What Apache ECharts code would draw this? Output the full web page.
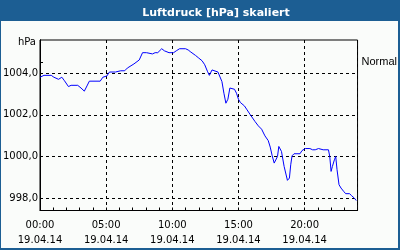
<!DOCTYPE html>
<html><head><meta charset="utf-8">
<script src="https://cdn.jsdelivr.net/npm/echarts@6/dist/echarts.min.js"></script>
<style>html,body{margin:0;padding:0;}#c{width:400px;height:250px;}</style>
</head><body><div id="c"></div>
<script>
const titleText = 'Luftdruck [hPa] skaliert';
const unitName = 'hPa';
const dateLabel = '19.04.14';
const xTickHours = [0, 5, 10, 15, 20];
const xTickLabels = ['00:00', '05:00', '10:00', '15:00', '20:00'];
const yTickValues = [998, 1000, 1002, 1004];
const normalLevel = [1004.53];
const normalLabel = 'Normal';
const hours = [0,0.30,0.85,1.05,1.40,1.65,1.85,2.15,2.35,2.85,3.10,3.35,3.55,3.73,4.55,4.75,5.05,5.25,5.70,5.85,6.10,6.40,6.60,6.75,7.10,7.25,7.50,7.75,8.05,8.20,8.50,8.70,8.90,9.20,9.40,9.55,9.75,9.90,10.10,10.30,10.55,11.00,11.20,11.40,11.75,12.00,12.25,12.45,12.65,12.80,13.00,13.45,13.60,13.75,13.90,14.05,14.20,14.35,14.70,14.85,15.00,15.15,15.45,15.65,15.90,16.25,16.50,16.75,17.00,17.25,17.40,17.55,17.70,17.85,17.95,18.05,18.20,18.25,18.45,18.70,18.85,18.95,19.05,19.20,19.65,19.80,20.05,20.40,20.60,20.80,21.05,21.40,21.80,21.90,22.00,22.10,22.25,22.35,22.45,22.60,22.75,22.95,23.10,23.40,23.55,23.75,23.90];
const pressure = [1003.81,1003.90,1003.90,1003.81,1003.71,1003.81,1003.64,1003.36,1003.42,1003.42,1003.29,1003.14,1003.39,1003.62,1003.62,1003.81,1003.87,1004.06,1004.06,1004.03,1004.12,1004.12,1004.25,1004.19,1004.45,1004.54,1004.64,1004.99,1004.99,1004.93,1004.93,1004.99,1004.99,1005.18,1005.08,1005.12,1004.99,1005.08,1004.99,1005.08,1005.18,1005.18,1005.12,1005.02,1004.86,1004.73,1004.60,1004.41,1004.10,1003.90,1004.16,1004.06,1003.97,1003.60,1003.04,1002.56,1002.75,1003.29,1003.23,1003.04,1002.75,1002.59,1002.43,1002.24,1002.00,1001.68,1001.47,1001.31,1000.99,1000.76,1000.45,1000.03,999.68,999.68,1000.00,1000.48,1000.48,1000.24,999.52,998.85,998.96,999.60,1000.03,1000.13,1000.13,1000.28,1000.38,1000.38,1000.32,1000.32,1000.38,1000.32,1000.32,1000.00,999.28,999.52,999.84,1000.00,999.36,998.64,998.48,998.32,998.21,998.21,998.11,998.00,997.88];

const FONT = 'DejaVu Sans';
const BLUE = '#1c5e93';
const chart = echarts.init(document.getElementById('c'), null, {renderer: 'canvas'});
chart.setOption({
  animation: false,
  backgroundColor: BLUE,
  graphic: [
    {type: 'rect', shape: {x: 1, y: 21, width: 397, height: 227}, style: {fill: '#fafcfa'}, silent: true, z: -10}
  ],
  title: {
    text: titleText, left: 211, top: 3, textAlign: 'center',
    textStyle: {color: '#ffffff', fontSize: 11, fontWeight: 'bold', fontFamily: FONT}
  },
  grid: {left: 40, top: 40, width: 320, height: 170.5, show: true, borderColor: '#000', borderWidth: 1, backgroundColor: 'transparent'},
  xAxis: [
    {
      type: 'value', min: 0, max: 24, interval: 1,
      axisLine: {show: true, lineStyle: {color: '#000', width: 1}},
      axisTick: {show: true, inside: true, length: 3, lineStyle: {color: '#000'}},
      splitLine: {show: false},
      axisLabel: {
        margin: 7, color: '#000', fontFamily: FONT, fontSize: 10, lineHeight: 15,
        formatter: function (v) {
          const i = xTickHours.indexOf(v);
          return i >= 0 ? xTickLabels[i] + '\n' + dateLabel : '';
        }
      }
    },
    {
      type: 'value', min: 0, max: 24, interval: 5, position: 'bottom',
      axisLine: {show: false}, axisTick: {show: false}, axisLabel: {show: false},
      splitLine: {show: true, lineStyle: {color: '#000', type: [3, 3], width: 1}}
    }
  ],
  yAxis: [
    {
      type: 'value', min: 997.4, max: 1005.6,
      name: unitName, nameLocation: 'end', nameGap: -7,
      nameTextStyle: {color: '#000', fontFamily: FONT, fontSize: 10, align: 'right', padding: [0, 4, 0, 0]},
      axisLine: {show: true, lineStyle: {color: '#000'}},
      axisTick: {show: false, customValues: yTickValues},
      axisLabel: {
        customValues: yTickValues, margin: 2, color: '#000', fontFamily: FONT, fontSize: 10,
        formatter: function (v) { return v.toFixed(1).replace('.', ','); }
      },
      splitLine: {show: true, lineStyle: {color: '#000', type: [3, 3], width: 1}}
    },
    {
      type: 'value', min: 997.4, max: 1005.6, position: 'right',
      axisLine: {show: true, lineStyle: {color: '#000', width: 1}},
      axisTick: {show: true, inside: false, customValues: normalLevel, length: 3, lineStyle: {color: '#000', width: 1}},
      axisLabel: {
        customValues: normalLevel, margin: 4, color: '#000', fontFamily: 'Liberation Sans', fontSize: 11,
        formatter: function () { return normalLabel; }
      },
      splitLine: {show: false}
    }
  ],
  series: [{
    type: 'line', xAxisIndex: 0, yAxisIndex: 0,
    data: hours.map((h, i) => [h, pressure[i]]),
    showSymbol: false, symbol: 'none',
    lineStyle: {color: '#0000ff', width: 1}
  }]
});
</script>
</body></html>
